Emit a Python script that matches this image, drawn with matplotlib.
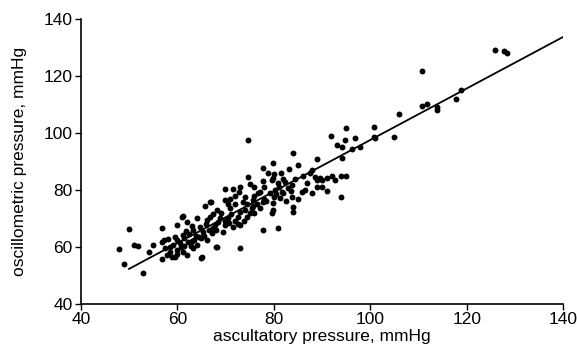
import matplotlib
matplotlib.use("Agg")
import numpy as np
import matplotlib.pyplot as plt

# === Data (mmHg) ===
ausc = [
    50.0, 47.9, 48.9, 51.0, 51.8, 52.9, 54.1, 55.0, 56.8, 56.8, 58.0, 59.9, 56.8, 58.9,
    61.0, 57.2, 59.5, 65.1, 68.2, 62.0, 64.1, 66.1, 61.2, 63.2, 65.3, 67.4, 59.1, 60.5,
    62.2, 64.1, 59.9, 61.2, 63.2, 58.5, 57.8, 66.1,
    69.9, 72.8, 76.7, 67.0, 65.7, 61.2, 68.0, 73.0, 64.9,
    74.6, 77.8, 79.8, 77.1, 79.2, 69.9, 72.0, 73.6, 75.7, 77.8, 79.8, 68.2, 70.9, 73.0,
    75.5, 77.1, 79.6, 66.8, 68.8, 70.5, 72.6, 74.4, 67.8, 69.9, 71.5, 73.0, 67.2, 69.5,
    77.8, 80.9,
    84.0, 79.8, 85.0, 89.0, 77.8, 83.2, 87.5, 89.6, 86.9, 85.9, 79.8, 78.8, 79.6, 80.9,
    82.3, 83.8, 80.2, 81.7, 83.0, 81.3, 83.8, 84.0, 84.0, 66.8, 74.6,
    100.8, 95.0, 91.9, 96.8, 94.8, 93.1, 94.1, 96.2, 97.9, 101.0, 94.1, 87.9, 89.0, 90.0,
    91.0, 92.7, 93.9, 89.0, 93.9,
    125.9, 127.8, 128.4, 110.7, 118.8, 117.8, 113.9, 113.9, 111.8, 110.7, 106.0, 104.9, 100.8,
    60.0, 61.5, 62.5, 63.5, 64.5, 65.5, 62.8, 60.8, 61.8, 64.8, 66.0, 63.0, 68.5, 70.0,
    71.2, 72.0, 73.8, 75.0, 76.0, 76.5, 74.5, 72.0, 70.5, 69.0, 67.5, 71.0, 74.0, 76.0,
    78.0, 80.5, 81.0, 82.0, 80.0, 81.5, 76.0, 73.0, 71.5, 75.0, 78.0, 82.5, 85.0, 86.5,
    88.0, 91.0, 90.0, 84.5, 86.0, 88.5, 92.0, 95.0, 58.5, 59.5, 57.5, 60.0, 62.0,
    63.8, 65.0, 66.5, 68.0, 70.8, 72.5, 74.0, 75.8, 78.5, 80.0, 82.0, 83.5, 61.5, 63.0,
]
oscil = [
    66.3, 59.3, 54.0, 60.7, 60.4, 50.9, 58.2, 60.7, 66.7, 61.8, 62.8, 67.7, 55.8, 56.5,
    70.5, 62.5, 56.5, 56.5, 60.0, 68.8, 70.2, 69.5, 64.2, 66.0, 65.3, 66.7, 60.7, 61.4,
    61.8, 60.7, 58.9, 58.2, 59.6, 58.2, 57.2, 62.5,
    80.3, 79.3, 79.0, 75.8, 74.4, 70.9, 60.0, 59.6, 56.1,
    84.6, 83.2, 84.2, 79.3, 78.9, 76.5, 77.9, 75.8, 76.5, 75.8, 75.4, 73.0, 73.7, 72.3,
    73.7, 73.7, 71.9, 70.5, 70.2, 70.2, 70.5, 70.5, 67.7, 67.7, 67.0, 67.7, 64.9, 65.3,
    66.0, 66.7,
    93.0, 89.5, 88.8, 90.9, 87.7, 87.4, 86.0, 84.2, 82.5, 79.3, 73.0, 86.0, 83.5, 82.5,
    82.8, 81.8, 80.0, 79.3, 80.7, 77.2, 77.5, 74.0, 72.3, 75.8, 97.5,
    102.1, 101.8, 98.9, 98.2, 97.5, 95.8, 95.1, 94.4, 95.1, 98.2, 91.2, 87.0, 83.5, 83.5,
    84.2, 83.5, 84.9, 81.1, 77.5,
    129.1, 128.8, 128.1, 121.8, 115.1, 111.9, 108.1, 109.1, 110.2, 109.5, 106.7, 98.6, 98.6,
    62.5, 63.0, 64.5, 62.5, 63.5, 64.0, 60.2, 60.0, 65.5, 67.0, 68.0, 67.5, 68.8, 69.0,
    71.5, 69.0, 69.0, 71.8, 72.0, 75.0, 75.0, 75.0, 75.0, 72.0, 71.5, 77.0, 77.5, 78.0,
    77.0, 78.5, 81.0, 84.0, 85.5, 86.0, 81.0, 81.0, 80.5, 82.0, 81.0, 76.0, 77.0, 80.0,
    79.0, 79.5, 81.0, 84.0, 85.0, 84.5, 85.0, 85.0, 60.0, 63.5, 59.5, 57.5, 57.0,
    64.0, 63.0, 66.0, 66.0, 68.5, 68.0, 73.0, 74.5, 76.0, 77.5, 79.0, 79.5, 60.5, 62.0,
]

# regression line
fit_x = [50, 140]
fit_y = [52.3, 133.7]

plt.rcParams['font.family'] = ['Liberation Sans', 'DejaVu Sans']

fig = plt.figure(figsize=(5.77, 3.58), dpi=100)
ax = fig.add_axes([0.140, 0.151, 0.836, 0.796])

ax.scatter(ausc, oscil, s=18, color='black', linewidths=0, zorder=3)
ax.plot(fit_x, fit_y, color='black', linewidth=1.3, zorder=2)

ax.set_xlim(40, 140)
ax.set_ylim(40, 140)
ax.set_xticks(range(40, 141, 20))
ax.set_yticks(range(40, 141, 20))
ax.tick_params(direction='out', length=4, width=1, labelsize=12.5, pad=2)

for side in ['top', 'right']:
    ax.spines[side].set_visible(False)
for side in ['left', 'bottom']:
    ax.spines[side].set_linewidth(1.2)

ax.set_xlabel("ascultatory pressure, mmHg", fontsize=12.5, labelpad=1)
ax.set_ylabel("oscillometric pressure, mmHg", fontsize=12.5, labelpad=12)

fig.savefig("out.png", dpi=100)
